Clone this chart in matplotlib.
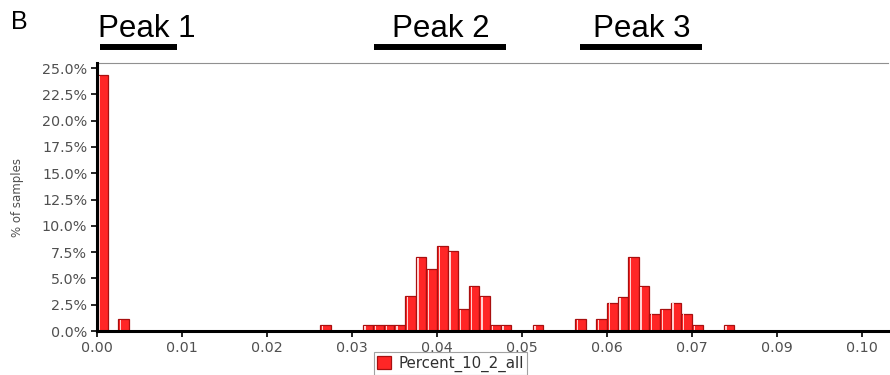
import matplotlib
matplotlib.use('Agg')
import matplotlib.pyplot as plt
from matplotlib.transforms import blended_transform_factory

# histogram bins (left edges) that are non-empty, bin width 0.00125
BIN_WIDTH = 0.00125
bin_left = [0.0, 0.0025, 0.02625, 0.03125, 0.0325, 0.03375, 0.035, 0.03625,
            0.0375, 0.03875, 0.04, 0.04125, 0.0425, 0.04375, 0.045, 0.04625,
            0.0475, 0.05125, 0.05625, 0.05875, 0.06, 0.06125, 0.0625, 0.06375,
            0.065, 0.06625, 0.0675, 0.06875, 0.07, 0.07375]
pct_samples = [24.3, 1.1, 0.55, 0.55, 0.55, 0.55, 0.55, 3.3,
               7.05, 5.85, 8.05, 7.6, 2.1, 4.3, 3.3, 0.55,
               0.55, 0.55, 1.1, 1.1, 2.7, 3.25, 7.05, 4.3,
               1.65, 2.1, 2.7, 1.65, 0.55, 0.55]

xtick_pos = [0.00, 0.01, 0.02, 0.03, 0.04, 0.05, 0.06, 0.07, 0.08, 0.09]
xtick_labels = ['0.00', '0.01', '0.02', '0.03', '0.04', '0.05', '0.06', '0.07', '0.09', '0.10']
ytick_pos = [0, 2.5, 5, 7.5, 10, 12.5, 15, 17.5, 20, 22.5, 25]

peak_names = ['Peak 1', 'Peak 2', 'Peak 3']
peak_start = [0.00035, 0.0326, 0.0568]
peak_end = [0.0094, 0.0481, 0.0712]
peak_label_x = [0.0059, 0.0405, 0.0641]

fig = plt.figure(figsize=(8.9, 3.75), dpi=100)
ax = fig.add_axes([0.109, 0.1173, 0.889, 0.7147])

bars = ax.bar(bin_left, pct_samples, width=BIN_WIDTH, align='edge',
              color='#ff2626', edgecolor='#a81010', linewidth=0.9,
              label='Percent_10_2_all', zorder=3)
# light highlight stripe on the left of each bar
hl_left = [b + 0.16 * BIN_WIDTH for b in bin_left]
hl_h = [v - 0.08 for v in pct_samples]
ax.bar(hl_left, hl_h, width=0.13 * BIN_WIDTH, align='edge',
       color='#ffd0d0', linewidth=0, zorder=4)

ax.set_xlim(0, 0.0931)
ax.set_ylim(0, 25.48)
ax.set_xticks(xtick_pos)
ax.set_xticklabels(xtick_labels)
ax.set_yticks(ytick_pos)
ax.set_yticklabels(['%.1f%%' % v for v in ytick_pos])
ax.tick_params(axis='both', colors='black', labelcolor='#505050',
               labelsize=10.3, length=4, width=1.2, pad=3)

for s in ['left', 'bottom']:
    ax.spines[s].set_linewidth(2.2)
    ax.spines[s].set_zorder(5)
ax.spines['right'].set_visible(False)
ax.spines['top'].set_color('#909090')
ax.spines['top'].set_linewidth(0.8)

ax.set_ylabel('% of samples', fontsize=8.5, color='#505050', labelpad=13)

leg = fig.legend(handles=[bars], loc='center', bbox_to_anchor=(0.506, 0.03),
                 fontsize=10.8, frameon=True, fancybox=False, handlelength=0.9,
                 handleheight=0.9, handletextpad=0.5, borderpad=0.22,
                 edgecolor='#8a8a8a')
leg.get_frame().set_linewidth(0.8)
for t in leg.get_texts():
    t.set_color('#303030')

# peak annotations above the plot
tr = blended_transform_factory(ax.transData, ax.transAxes)
for name, x0, x1, xl in zip(peak_names, peak_start, peak_end, peak_label_x):
    ax.plot([x0, x1], [1.06, 1.06], transform=tr, color='black',
            linewidth=4.3, solid_capstyle='butt', clip_on=False)
    ax.text(xl, 1.097, name, transform=tr, ha='center', va='baseline',
            fontsize=22.5, family=['Liberation Sans Narrow', 'Liberation Sans', 'DejaVu Sans'])

fig.text(0.012, 1 - 22 / 375, 'B', fontsize=18, va='center',
         family=['Liberation Sans', 'DejaVu Sans'])

fig.savefig('out.png', dpi=100)
